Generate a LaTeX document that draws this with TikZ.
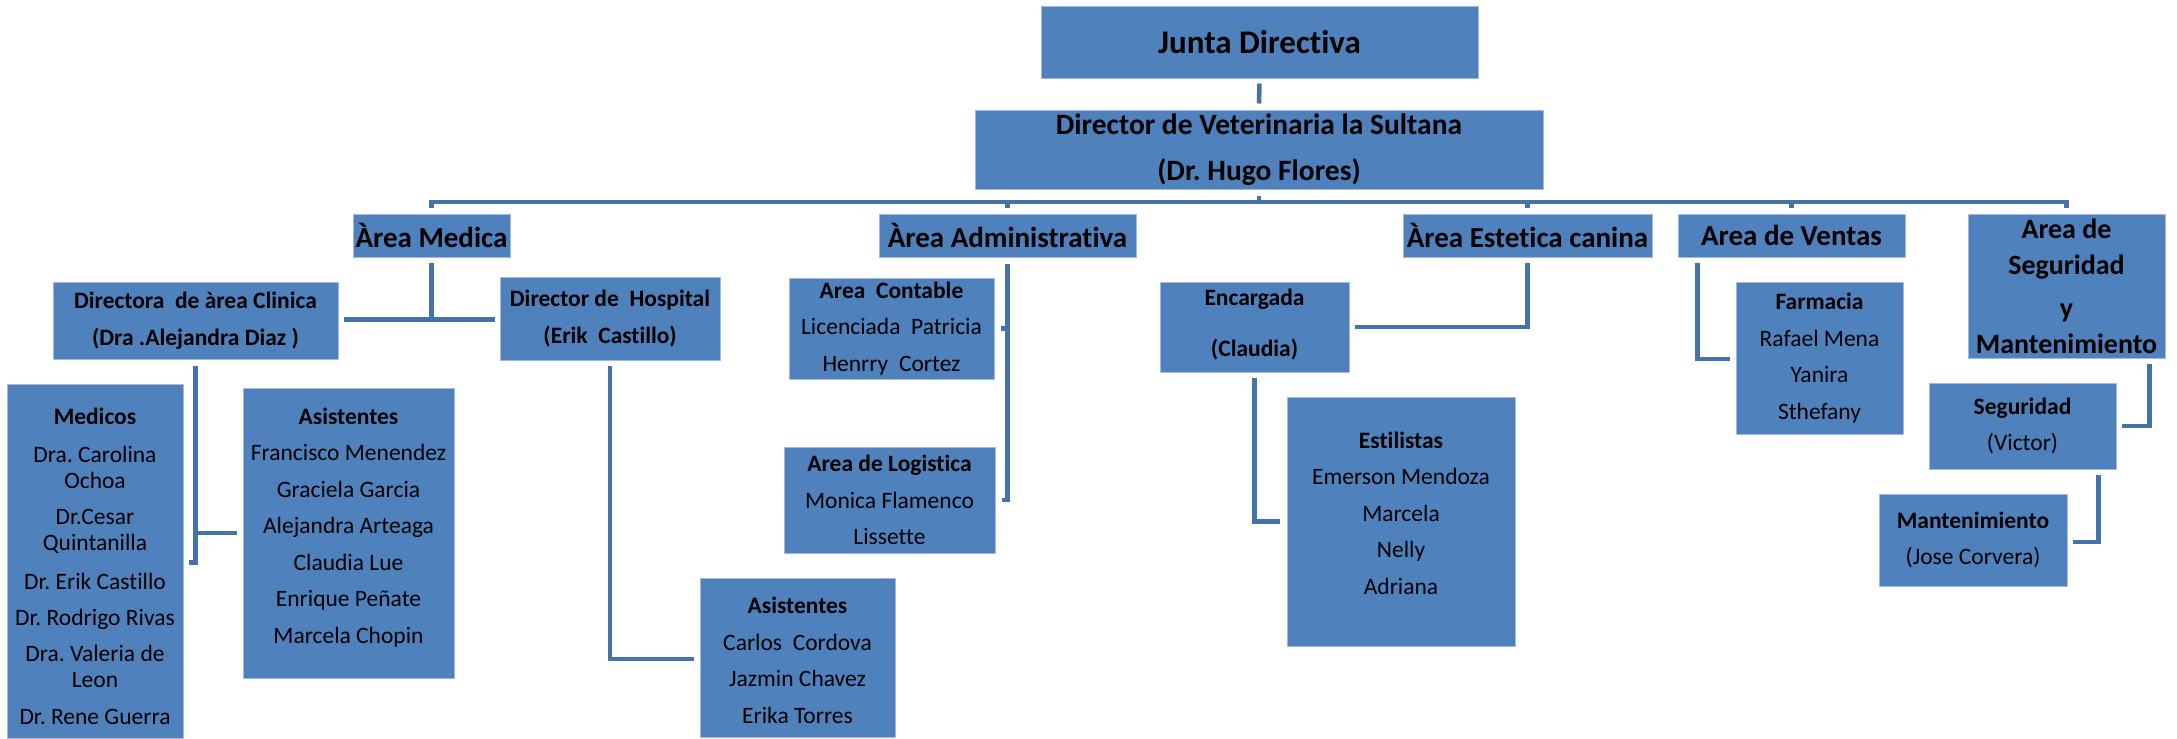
\documentclass[tikz,border=0pt]{standalone}
\usepackage{fontspec}
\setmainfont{Carlito}[Ligatures=CommonOff]
\frenchspacing
\definecolor{boxfill}{HTML}{4F81BD}
\definecolor{boxedge}{HTML}{A5B9DC}
\definecolor{connc}{HTML}{4672AA}
\begin{document}
\begin{tikzpicture}[x=1pt,y=-1pt,
  box/.style={draw=boxedge,fill=boxfill,line width=1pt,inner sep=0pt,align=center,text=black},
  conn/.style={draw=connc,line width=4.5pt},
  fA/.style={font=\fontsize{29.5}{46}\selectfont\bfseries},
  fB/.style={font=\fontsize{29}{36}\selectfont\bfseries},
  fC/.style={font=\fontsize{23.5}{36.5}\selectfont},
  fD/.style={font=\fontsize{23.5}{26}\selectfont},
  txt/.style={inner sep=0pt,align=center,text=black}]
\useasboundingbox (0,0) rectangle (2177,739);
% level 0/1
\node[box,font=\fontsize{33}{40}\selectfont\bfseries,minimum width=437,minimum height=72] (junta) at (1259.5,42) {Junta Directiva};
\node[box,fA,minimum width=568,minimum height=79] (dir) at (1259,149.5) {Director de Veterinaria la Sultana\\(Dr. Hugo Flores)};
% level 2
\node[box,fB,minimum width=157,minimum height=43] (medica) at (431.5,235.5) {Àrea Medica};
\node[box,fB,minimum width=257,minimum height=43] (admin) at (1007.5,235.5) {Àrea Administrativa};
\node[box,fB,minimum width=249,minimum height=43] (estetica) at (1527.5,235.5) {Àrea Estetica canina};
\node[box,fB,minimum width=227,minimum height=43] (ventas) at (1791.5,235.5) {Area de Ventas};
\node[box,minimum width=197,minimum height=144] (segarea) at (2066.5,286) {};
\node[txt,font=\fontsize{28}{36}\selectfont\bfseries] (segareat) at (segarea.center) {Area de\\Seguridad\\[7pt]y\\Mantenimiento};
% level 3
\node[box,fC,minimum width=285,minimum height=77] (clinica) at (195.5,320.5) {\bfseries Directora\ \ de àrea Clinica\\\bfseries (Dra .Alejandra Diaz )};
\node[box,fC,minimum width=220,minimum height=83] (hospital) at (610,318.5) {\bfseries Director de\ \ Hospital\\\bfseries (Erik\ \ Castillo)};
\node[box,fC,minimum width=205,minimum height=101] (contable) at (891.5,328.5) {\bfseries Area\ \ Contable\\Licenciada\ \ Patricia\\Henrry\ \ Cortez};
\node[box,fC,minimum width=211,minimum height=106] (logistica) at (889.5,500) {\bfseries Area de Logistica\\Monica Flamenco\\Lissette};
\node[box,minimum width=195,minimum height=159] (hasist) at (797.5,657.5) {};
\node[txt,fC] (hasistt) at ([yshift=-3pt]hasist.center) {\bfseries Asistentes\\Carlos\ \ Cordova\\Jazmin Chavez\\Erika Torres};
\node[box,minimum width=176,minimum height=354] (medicos) at (95,561) {};
\node[txt,fD] (medicost) at ([yshift=-5pt]medicos.center) {\bfseries Medicos\\[12pt]Dra. Carolina\\Ochoa\\[10pt]Dr.Cesar\\Quintanilla\\[13pt]Dr. Erik Castillo\\[10pt]Dr. Rodrigo Rivas\\[10pt]Dra. Valeria de\\Leon\\[11pt]Dr. Rene Guerra};
\node[box,minimum width=211,minimum height=290] (masist) at (348.5,533) {};
\node[txt,fC] (masistt) at ([yshift=5.5pt]masist.center) {\bfseries Asistentes\\Francisco Menendez\\Graciela Garcia\\Alejandra Arteaga\\Claudia Lue\\Enrique Peñate\\Marcela Chopin};
\node[box,minimum width=189,minimum height=90] (encargada) at (1254.5,327) {};
\node[txt,font=\fontsize{23.5}{51}\selectfont\bfseries] (encargadat) at ([yshift=2.5pt]encargada.center) {Encargada\\(Claudia)};
\node[box,minimum width=228,minimum height=249] (estilistas) at (1401,521.5) {};
\node[txt,fC] (estilistast) at ([yshift=8.5pt]estilistas.center) {\bfseries Estilistas\\Emerson Mendoza\\Marcela\\Nelly\\Adriana};
\node[box,fC,minimum width=167,minimum height=152] (farmacia) at (1819.5,358) {\bfseries Farmacia\\Rafael Mena\\Yanira\\Sthefany};
\node[box,fC,minimum width=187,minimum height=86] (seguridad) at (2022.5,426) {\bfseries Seguridad\\(Victor)};
\node[box,fC,minimum width=188,minimum height=92] (mantenimiento) at (1973,540) {\bfseries Mantenimiento\\(Jose Corvera)};
% connectors
\coordinate (bus) at (1259,202);
\draw[conn] ([yshift=-5pt]junta.south) -- ([yshift=6pt]dir.north);
\draw[conn] ([yshift=-6pt]dir.south) -- (dir.south |- bus);
\draw[conn] ([yshift=6pt]medica.north) -- (medica.north |- bus) -- (segarea.north |- bus) -- ([yshift=6pt]segarea.north);
\draw[conn] (admin.north |- bus) -- ([yshift=6pt]admin.north);
\draw[conn] (estetica.north |- bus) -- ([yshift=6pt]estetica.north);
\draw[conn] (ventas.north |- bus) -- ([yshift=6pt]ventas.north);
\draw[conn] ([yshift=-5pt]medica.south) -- ([yshift=1pt]medica.south |- clinica.east);
\draw[conn] ([xshift=5pt,yshift=1pt]clinica.east) -- ([xshift=-5pt,yshift=1pt]clinica.east -| hospital.west);
\draw[conn] ([yshift=-6pt]clinica.south) -- ++(0,197) -- ++(-7,0);
\draw[conn] (clinica.south |- masist.west) -- ([xshift=-6pt]masist.west);
\draw[conn] ([yshift=-5pt]hospital.south) |- ([xshift=-6pt,yshift=-1.5pt]hasist.west);
\draw[conn] ([yshift=-6pt]admin.south) |- ([xshift=6pt]logistica.east);
\draw[conn] (admin.south |- contable.east) -- ([xshift=6pt]contable.east);
\draw[conn] ([yshift=-5pt]estetica.south) |- ([xshift=5pt]encargada.east);
\draw[conn] ([yshift=-5pt]encargada.south) |- ([xshift=-7pt]estilistas.west);
\draw[conn] ([xshift=20pt,yshift=-5pt]ventas.south west) |- ([xshift=-6pt,yshift=-1pt]farmacia.west);
\draw[conn] ([xshift=-16pt,yshift=-5pt]segarea.south east) |- ([xshift=5pt]seguridad.east);
\draw[conn] ([xshift=-18pt,yshift=-5pt]seguridad.south east) |- ([xshift=5pt,yshift=-2pt]mantenimiento.east);
\end{tikzpicture}
\end{document}
